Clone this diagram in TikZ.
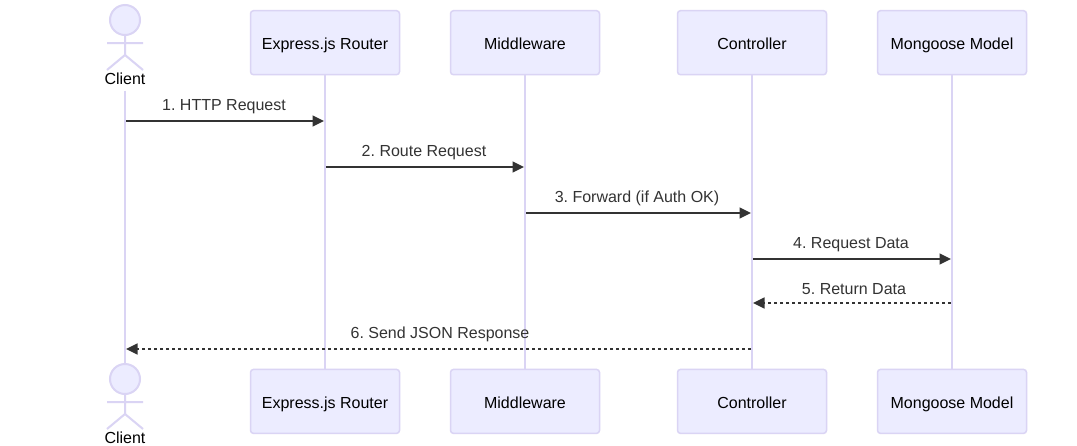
\documentclass[tikz,border=0pt]{standalone}
\usepackage{fontspec}
\setmainfont{Liberation Sans}
\frenchspacing
\usetikzlibrary{arrows.meta}
\definecolor{actorfill}{HTML}{ECECFF}
\definecolor{actorline}{HTML}{DAD4F4}
\definecolor{msgcol}{HTML}{333333}
\tikzset{
  x=1pt,y=-1pt,
  actorbox/.style={draw=actorline,fill=actorfill,line width=1.5pt,rounded corners=3pt,minimum width=149pt,minimum height=64pt,inner sep=0pt,text=black,text height=15pt,text depth=1.4pt,font=\fontsize{16}{19}\selectfont},
  actorname/.style={inner sep=0pt,anchor=base,text=black,font=\fontsize{16}{19}\selectfont},
  stick/.style={draw=actorline,line width=2pt},
  lifeline/.style={draw=actorline,line width=2pt},
  msg/.style={draw=msgcol,line width=1.7pt,-{Triangle[length=11.5pt,width=11pt,fill=msgcol]}},
  reply/.style={msg,dash pattern=on 3pt off 3pt},
  msglabel/.style={inner sep=0pt,anchor=base,text=msgcol,font=\fontsize{16}{19}\selectfont},
}
\newcommand{\stickman}[2]{%
  \draw[stick,fill=actorfill] (#1,#2) circle[radius=15];
  \draw[stick] (#1,#2+15) -- (#1,#2+35) (#1-18,#2+23) -- (#1+18,#2+23)
    (#1-18,#2+50) -- (#1,#2+35) -- (#1+18,#2+50);
}
\begin{document}
\begin{tikzpicture}
\useasboundingbox[fill=white] (0,0) rectangle (1077,445);
% top participants
\node[actorname] (clientT) at (125,84.3) {Client};
\node[actorbox] (routerT) at (325,42.7) {Express.js Router};
\node[actorbox] (midT) at (525,42.7) {Middleware};
\node[actorbox] (ctrlT) at (752,42.7) {Controller};
\node[actorbox] (modelT) at (952,42.7) {Mongoose Model};
% bottom participants
\node[actorname] (clientB) at (125,443.3) {Client};
\node[actorbox] (routerB) at (325,401.4) {Express.js Router};
\node[actorbox] (midB) at (525,401.4) {Middleware};
\node[actorbox] (ctrlB) at (752,401.4) {Controller};
\node[actorbox] (modelB) at (952,401.4) {Mongoose Model};
% lifelines
\coordinate (clientS) at (125,90.5);
\coordinate (clientE) at (125,364);
\draw[lifeline] (clientS) -- (clientE);
\draw[lifeline] (routerT.south) -- (routerB.north);
\draw[lifeline] (midT.south) -- (midB.north);
\draw[lifeline] (ctrlT.south) -- (ctrlB.north);
\draw[lifeline] (modelT.south) -- (modelB.north);
% stick figures
\stickman{125}{20}
\stickman{125}{379}
% message ends
\coordinate (m1s) at (126,121);   \coordinate (m1e) at (324,121);
\coordinate (m2s) at (326,167);   \coordinate (m2e) at (524,167);
\coordinate (m3s) at (526,213);   \coordinate (m3e) at (751,213);
\coordinate (m4s) at (753,259);   \coordinate (m4e) at (951,259);
\coordinate (m5s) at (951,303);   \coordinate (m5e) at (753,303);
\coordinate (m6s) at (751,349);   \coordinate (m6e) at (126,349);
\draw[msg] (m1s) -- (m1e);
\draw[msg] (m2s) -- (m2e);
\draw[msg] (m3s) -- (m3e);
\draw[msg] (m4s) -- (m4e);
\draw[reply] (m5s) -- (m5e);
\draw[reply] (m6s) -- (m6e);
% labels
\node[msglabel] (l1) at (224,110) {1. HTTP Request};
\node[msglabel] (l2) at (424,156) {2. Route Request};
\node[msglabel] (l3) at (637,202) {3. Forward (if Auth OK)};
\node[msglabel] (l4) at (851,248) {4. Request Data};
\node[msglabel] (l5) at (854,294) {5. Return Data};
\node[msglabel] (l6) at (440,338) {6. Send JSON Response};
\end{tikzpicture}
\end{document}
